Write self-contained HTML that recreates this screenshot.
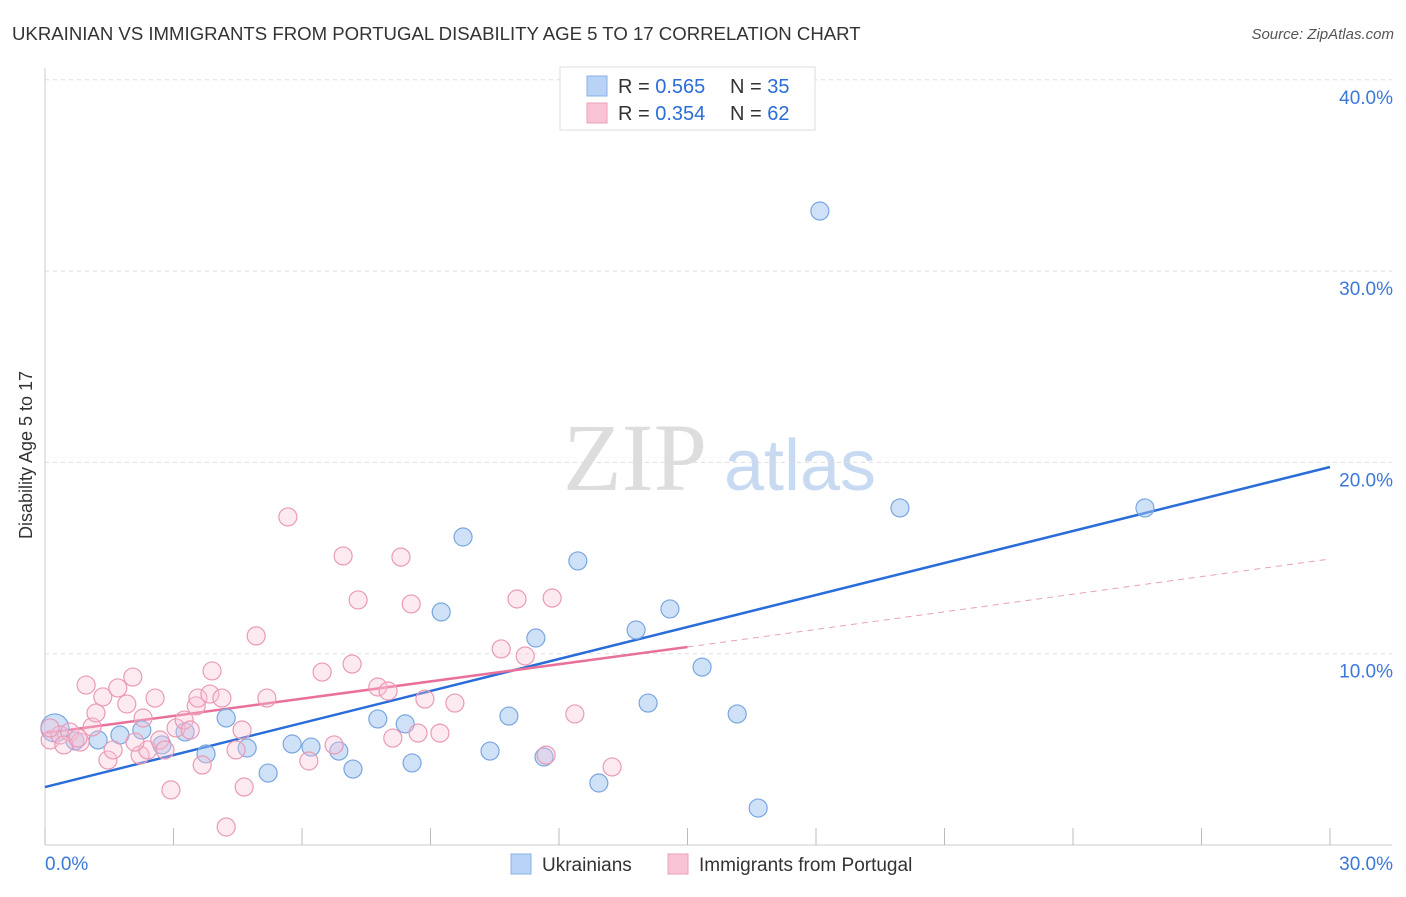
<!DOCTYPE html>
<html><head><meta charset="utf-8"><style>
body{margin:0;background:#fff;font-family:"Liberation Sans",sans-serif;}
svg text{font-family:"Liberation Sans",sans-serif;}
</style></head><body>
<svg id="chart" width="1406" height="892">
<text x="12" y="40" font-size="18.6" fill="#333">UKRAINIAN VS IMMIGRANTS FROM PORTUGAL DISABILITY AGE 5 TO 17 CORRELATION CHART</text>
<text x="1394" y="39" font-size="15" fill="#555" text-anchor="end" font-style="italic">Source: ZipAtlas.com</text>
<text x="32" y="455" font-size="18" fill="#333" text-anchor="middle" transform="rotate(-90 32 455)">Disability Age 5 to 17</text>
<g>
<text x="635" y="490" font-size="96" fill="#ddd" text-anchor="middle" font-family="Liberation Serif" style="font-family:'Liberation Serif',serif">ZIP</text>
<text x="800" y="490" font-size="72" fill="#c8daf2" text-anchor="middle">atlas</text>
</g>
<g id="grid"></g>
<g id="axes"></g>
<g id="lines"></g>
<g id="points"></g>
<g>
<rect x="560" y="67" width="255" height="63" fill="#fff" stroke="#ddd"/>
<rect x="587" y="76" width="20" height="20" fill="#b8d3f5" stroke="#8ab2e6"/>
<rect x="587" y="103" width="20" height="20" fill="#f8c4d5" stroke="#eba0ba"/>
<text x="618" y="93" font-size="20" fill="#333">R = <tspan fill="#2a6dd8">0.565</tspan></text>
<text x="730" y="93" font-size="20" fill="#333">N = <tspan fill="#2a6dd8">35</tspan></text>
<text x="618" y="120" font-size="20" fill="#333">R = <tspan fill="#2a6dd8">0.354</tspan></text>
<text x="730" y="120" font-size="20" fill="#333">N = <tspan fill="#2a6dd8">62</tspan></text>
</g>
<g>
<rect x="511" y="854" width="20" height="20" fill="#b8d3f5" stroke="#8ab2e6"/>
<text x="542" y="871" font-size="19" fill="#333">Ukrainians</text>
<rect x="668" y="854" width="20" height="20" fill="#f8c4d5" stroke="#eba0ba"/>
<text x="699" y="871" font-size="19" fill="#333">Immigrants from Portugal</text>
</g>
</svg>
<script>
const blueX=[0.23,0.70,1.24,1.75,2.26,2.73,3.27,3.76,4.23,4.72,5.21,5.77,6.21,6.86,7.19,7.77,8.41,8.57,9.25,9.76,10.39,10.83,11.46,11.65,12.44,12.93,13.80,14.08,14.59,15.34,16.16,16.65,18.09,19.96,25.68];
const blueY=[6.12,5.44,5.49,5.75,6.01,5.23,5.91,4.76,6.64,5.07,3.76,5.28,5.12,4.91,3.97,6.59,6.33,4.29,12.18,16.10,4.91,6.74,10.82,4.60,14.85,3.24,11.24,7.42,12.34,9.30,6.85,1.93,33.14,17.62,17.62];
const pinkX=[0.12,0.35,0.58,0.82,0.96,1.10,1.19,1.35,1.47,1.59,1.70,1.91,2.05,2.22,2.29,2.40,2.57,2.68,2.80,2.94,3.06,3.25,3.39,3.53,3.57,3.67,3.85,3.90,4.13,4.23,4.46,4.60,4.65,4.93,5.18,5.67,6.16,6.47,6.75,6.96,7.17,7.31,7.77,8.01,8.12,8.31,8.55,8.71,8.87,9.22,9.57,10.65,11.02,11.21,11.70,11.84,12.37,13.24,0.12,0.44,0.77,2.10];
const pinkY=[5.49,5.75,5.91,5.38,8.36,6.17,6.90,7.74,4.44,4.97,8.21,7.37,8.78,4.70,6.64,4.97,7.68,5.49,4.97,2.88,6.12,6.53,6.01,7.27,7.68,4.18,7.89,9.10,7.68,0.94,4.97,6.01,3.03,10.93,7.68,17.15,4.39,9.04,5.23,15.11,9.46,12.81,8.26,8.05,5.59,15.05,12.60,5.85,7.63,5.85,7.42,10.25,12.86,9.88,4.70,12.91,6.85,4.08,6.12,5.23,5.59,5.38];
const blueTrend=[[0,3.03],[30,19.76]];
const pinkTrendSolid=[[0,5.85],[15,10.35]];
const pinkTrendDash=[[15,10.35],[30,14.95]];
const yTicks=[10,20,30,40];
const yTickLabels=["10.0%","20.0%","30.0%","40.0%"];
const xTicks=[0,3,6,9,12,15,18,21,24,27,30];

const X=v=>45+v*(1285/30);
const Y=v=>845-v*19.13;
const NS="http://www.w3.org/2000/svg";
function mk(tag,attrs,parent){const e=document.createElementNS(NS,tag);for(const k in attrs)e.setAttribute(k,attrs[k]);document.getElementById(parent).appendChild(e);return e;}

yTicks.forEach((t,i)=>{
 const g=mk('line',{x1:45,x2:1392,y1:Y(t),y2:Y(t),stroke:'#ddd','stroke-dasharray':'4,4'},'grid');
 
 
 const l=mk('text',{x:1393,y:Y(t)+24,'font-size':19,fill:'#3b78d8','text-anchor':'end'},'axes');
 l.textContent=yTickLabels[i];
 
 
});
const ya=mk('line',{x1:45,x2:45,y1:68,y2:845,stroke:'#ccc'},'axes');


const xa=mk('line',{x1:45,x2:1392,y1:845,y2:845,stroke:'#ccc'},'axes');


xTicks.forEach(t=>{
 const tk=mk('line',{x1:X(t),x2:X(t),y1:828,y2:845,stroke:'#bbb'},'axes');
 
 
});
const xl0=mk('text',{x:45,y:870,'font-size':19,fill:'#3b78d8'},'axes');xl0.textContent='0.0%';


const xl1=mk('text',{x:1393,y:870,'font-size':19,fill:'#3b78d8','text-anchor':'end'},'axes');xl1.textContent='30.0%';



blueX.forEach((v,i)=>{
 const c=mk('circle',{cx:X(v),cy:Y(blueY[i]),r:i===0?14:9,fill:'rgba(160,195,240,0.5)',stroke:'#7aa6e0','stroke-width':1.2},'points');
 
 
});
pinkX.forEach((v,i)=>{
 const c=mk('circle',{cx:X(v),cy:Y(pinkY[i]),r:9,fill:'rgba(248,196,214,0.35)',stroke:'#e99ab6','stroke-width':1.2},'points');
 
 
});
const bl=mk('line',{x1:X(blueTrend[0][0]),y1:Y(blueTrend[0][1]),x2:X(blueTrend[1][0]),y2:Y(blueTrend[1][1]),stroke:'#2a6dd8','stroke-width':2.5},'lines');


const pl=mk('line',{x1:X(pinkTrendSolid[0][0]),y1:Y(pinkTrendSolid[0][1]),x2:X(pinkTrendSolid[1][0]),y2:Y(pinkTrendSolid[1][1]),stroke:'#e8709a','stroke-width':2.5},'lines');


const pd=mk('line',{x1:X(pinkTrendDash[0][0]),y1:Y(pinkTrendDash[0][1]),x2:X(pinkTrendDash[1][0]),y2:Y(pinkTrendDash[1][1]),stroke:'#e8a0b8','stroke-width':1,'stroke-dasharray':'6,5'},'lines');


</script>
</body></html>
